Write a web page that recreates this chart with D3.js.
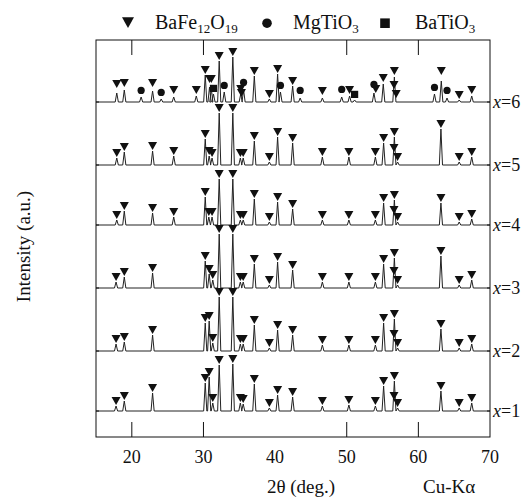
<!DOCTYPE html>
<html>
<head>
<meta charset="utf-8">
<script src="https://cdn.jsdelivr.net/npm/d3@7/dist/d3.min.js"></script>
<style>
  body { margin: 0; background: #fff; }
  svg { display: block; font-family: "Liberation Serif", "Times New Roman", serif; }
</style>
</head>
<body>
<div id="chart"></div>
<script>
// XRD patterns of BaFe12O19 / MgTiO3 composites, x = 1..6, stacked.

const SAMPLES = ['1', '2', '3', '4', '5', '6'];
const OFFSETS = [26, 86, 149, 212, 272, 335];   // stacking offset of each pattern (a.u.)
const X_LABELS = [20, 30, 40, 50, 60, 70];
const X_TICKS = [20, 30, 50, 60];                 // no tick mark at 40 in the original

// peaks: [2θ, height, phase, marker level]; height 0 = marker only (peak hidden under a neighbour)
// phase: B = BaFe12O19, M = MgTiO3, T = BaTiO3
const PEAKS_1 = [
  [17.8, 5, 'B'], [18.95, 10, 'B'], [22.9, 18, 'B'], [30.25, 28, 'B'], [30.8, 34, 'B'],
  [31.3, 8, 'B'], [32.2, 46, 'B'], [34.1, 47, 'B'], [35.15, 8, 'B'], [35.55, 7, 'B'],
  [37.1, 27, 'B'], [39.2, 3, 'B'], [40.35, 16, 'B'], [42.45, 14, 'B'], [46.6, 5, 'B'],
  [50.3, 6, 'B'], [54.0, 5, 'B'], [55.15, 25, 'B'], [56.65, 30, 'B'], [56.6, 0, 'B', 10],
  [57.1, 3, 'B'], [63.15, 20, 'B'], [65.7, 3, 'B'], [67.45, 8, 'B'],
];
const PEAKS_2 = [
  [17.8, 7, 'B'], [18.95, 9, 'B'], [22.9, 16, 'B'], [30.25, 28, 'B'], [30.8, 30, 'B'],
  [31.3, 8, 'B'], [32.2, 54, 'B'], [34.1, 54, 'B'], [35.15, 7, 'B'], [35.55, 7, 'B'],
  [37.1, 26, 'B'], [39.2, 3, 'B'], [40.35, 21, 'B'], [42.45, 16, 'B'], [46.6, 6, 'B'],
  [50.3, 6, 'B'], [54.0, 6, 'B'], [55.15, 28, 'B'], [56.65, 32, 'B'], [56.6, 0, 'B', 12],
  [57.1, 3, 'B'], [63.15, 22, 'B'], [65.7, 3, 'B'], [67.45, 7, 'B'],
];
const PEAKS_3 = [
  [17.8, 6, 'B'], [18.95, 11, 'B'], [22.9, 15, 'B'], [30.25, 27, 'B'], [30.8, 14, 'B'],
  [31.3, 8, 'B'], [32.2, 54, 'B'], [34.1, 54, 'B'], [35.15, 6, 'B'], [35.55, 6, 'B'],
  [37.1, 24, 'B'], [39.2, 3, 'B'], [40.35, 26, 'B'], [42.45, 18, 'B'], [46.6, 6, 'B'],
  [50.3, 6, 'B'], [54.0, 6, 'B'], [55.15, 24, 'B'], [56.65, 30, 'B'], [56.6, 0, 'B', 12],
  [57.1, 3, 'B'], [63.15, 32, 'B'], [65.7, 3, 'B'], [67.45, 8, 'B'],
];
const PEAKS_4 = [
  [17.9, 5, 'B'], [18.95, 14, 'B'], [22.9, 12, 'B'], [25.85, 8, 'B'], [30.25, 28, 'B'],
  [30.75, 8, 'B'], [31.2, 8, 'B'], [32.2, 46, 'B'], [34.1, 46, 'B'], [35.15, 5, 'B'],
  [35.55, 5, 'B'], [37.1, 26, 'B'], [39.2, 3, 'B'], [40.35, 23, 'B'], [42.45, 16, 'B'],
  [46.6, 5, 'B'], [50.3, 5, 'B'], [54.0, 5, 'B'], [55.15, 22, 'B'], [56.65, 25, 'B'],
  [56.6, 0, 'B', 10], [57.1, 3, 'B'], [63.15, 22, 'B'], [65.7, 3, 'B'], [67.45, 6, 'B'],
];
const PEAKS_5 = [
  [17.9, 7, 'B'], [18.95, 13, 'B'], [22.9, 14, 'B'], [25.85, 9, 'B'], [30.25, 26, 'B'],
  [30.8, 9, 'B'], [31.2, 7, 'B'], [32.2, 52, 'B'], [34.1, 52, 'B'], [35.15, 7, 'B'],
  [35.55, 7, 'B'], [37.1, 24, 'B'], [39.2, 3, 'B'], [40.35, 28, 'B'], [42.45, 22, 'B'],
  [46.6, 8, 'B'], [50.3, 8, 'B'], [54.0, 8, 'B'], [55.15, 22, 'B'], [56.65, 28, 'B'],
  [56.6, 0, 'B', 12], [57.1, 3, 'B'], [63.15, 36, 'B'], [65.7, 3, 'B'], [67.45, 8, 'B'],
];
const PEAKS_6 = [
  [17.9, 9, 'B', 13], [18.95, 12, 'B', 14], [21.3, 5, 'M', 7], [22.9, 11, 'B', 14],
  [24.1, 3, 'M', 5], [25.85, 5, 'B', 7], [29.0, 6, 'B', 7], [30.25, 27, 'B'],
  [30.85, 15, 'B', 18], [31.1, 13, 'B', 18], [31.4, 8, 'T', 9], [32.2, 41, 'B'],
  [32.9, 10, 'M', 12], [34.1, 45, 'B'], [35.2, 8, 'B'], [35.6, 12, 'M', 15],
  [35.3, 0, 'B', 4], [37.1, 26, 'B'], [39.2, 3, 'B'], [40.35, 28, 'B'],
  [40.75, 10, 'M', 12], [42.45, 16, 'B'], [43.5, 4, 'M', 7], [46.6, 4, 'B', 6],
  [49.3, 5, 'M', 8], [50.4, 6, 'B', 7], [51.1, 2, 'T', 3], [53.8, 9, 'M', 13],
  [54.05, 0, 'B', 8], [55.1, 18, 'B', 19], [56.65, 25, 'B', 26], [56.6, 0, 'B', 12],
  [56.9, 0, 'B', 3], [62.25, 8, 'M', 10], [63.2, 21, 'B', 26], [64.0, 4, 'M', 7],
  [65.7, 2, 'B', 2], [67.45, 6, 'B', 7],
];
const PATTERNS = [PEAKS_1, PEAKS_2, PEAKS_3, PEAKS_4, PEAKS_5, PEAKS_6];

const PHASES = [
  { key: 'B', parts: [['BaFe', 0], ['12', 1], ['O', 0], ['19', 1]] },
  { key: 'M', parts: [['MgTiO', 0], ['3', 1]] },
  { key: 'T', parts: [['BaTiO', 0], ['3', 1]] },
];

const W = 525, H = 497;
const M = { left: 96, right: 35, top: 40, bottom: 60 };
const INK = '#111';

const svg = d3.select('#chart').append('svg')
  .attr('width', W).attr('height', H)
  .attr('viewBox', `0 0 ${W} ${H}`);

const x = d3.scaleLinear().domain([15, 70]).range([M.left, W - M.right]);
const y = d3.scaleLinear().domain([0, 397]).range([H - M.bottom, M.top]);

// spectra: each peak as a narrow spike on a flat background
const HW = 0.22;
const line = d3.line().x((d) => x(d[0])).y((d) => y(d[1]));
PATTERNS.forEach((peaks, i) => {
  const off = OFFSETS[i];
  const pts = [[15, off]];
  peaks.filter((p) => p[1] > 0).sort((a, b) => a[0] - b[0]).forEach((p) => {
    pts.push([p[0] - HW, off], [p[0], off + p[1]], [p[0] + HW, off]);
  });
  pts.push([70, off]);
  svg.append('path')
    .attr('d', line(pts))
    .attr('fill', 'none')
    .attr('stroke', '#222')
    .attr('stroke-width', 1)
    .attr('stroke-linejoin', 'round');
});

// phase markers
function marker(g, phase, cx, yb, s) {
  if (phase === 'B') {
    g.append('path')
      .attr('d', `M${cx - s / 2},${yb - s * 0.9}L${cx + s / 2},${yb - s * 0.9}L${cx},${yb}Z`)
      .attr('fill', INK);
  } else if (phase === 'M') {
    g.append('circle').attr('cx', cx).attr('cy', yb - s * 0.4).attr('r', s * 0.4).attr('fill', INK);
  } else {
    g.append('rect').attr('x', cx - s * 0.4).attr('y', yb - s * 0.8)
      .attr('width', s * 0.8).attr('height', s * 0.8).attr('fill', INK);
  }
}
const gm = svg.append('g');
PATTERNS.forEach((peaks, i) => {
  peaks.forEach((p) => {
    const level = p[3] !== undefined ? p[3] : p[1];
    marker(gm, p[2], x(p[0]), y(OFFSETS[i] + level) - 1, 9);
  });
});

// frame and ticks
svg.append('rect')
  .attr('x', M.left).attr('y', M.top)
  .attr('width', W - M.left - M.right).attr('height', H - M.top - M.bottom)
  .attr('fill', 'none').attr('stroke', INK).attr('stroke-width', 1);

const TL = 15;
svg.append('g').selectAll('line').data(X_TICKS).join('line')
  .attr('x1', (d) => x(d)).attr('x2', (d) => x(d))
  .attr('y1', H - M.bottom).attr('y2', H - M.bottom - TL)
  .attr('stroke', INK);
svg.append('g').selectAll('line').data(X_TICKS).join('line')
  .attr('x1', (d) => x(d)).attr('x2', (d) => x(d))
  .attr('y1', M.top).attr('y2', M.top + TL)
  .attr('stroke', INK);
// short marks at each pattern's zero level on both sides
svg.append('g').selectAll('line').data(OFFSETS).join('line')
  .attr('x1', M.left).attr('x2', M.left + 3)
  .attr('y1', (d) => y(d)).attr('y2', (d) => y(d))
  .attr('stroke', INK);
svg.append('g').selectAll('line').data(OFFSETS).join('line')
  .attr('x1', W - M.right).attr('x2', W - M.right - 3)
  .attr('y1', (d) => y(d)).attr('y2', (d) => y(d))
  .attr('stroke', INK);

svg.append('g').selectAll('text').data(X_LABELS).join('text')
  .attr('x', (d) => x(d)).attr('y', H - M.bottom + 26)
  .attr('text-anchor', 'middle')
  .attr('font-size', 18).attr('fill', INK)
  .text((d) => d);

// sample labels at the right
const lab = svg.append('g').selectAll('text').data(SAMPLES).join('text')
  .attr('x', W - M.right + 3)
  .attr('y', (d, i) => y(OFFSETS[i]) + 6)
  .attr('font-size', 18).attr('fill', INK);
lab.append('tspan').attr('font-style', 'italic').text('x');
lab.append('tspan').text((d) => '=' + d);

// axis titles
svg.append('text')
  .attr('transform', `translate(30,${(M.top + H - M.bottom) / 2 + 8}) rotate(-90)`)
  .attr('text-anchor', 'middle').attr('font-size', 19).attr('fill', INK)
  .text('Intensity (a.u.)');
svg.append('text')
  .attr('x', 301).attr('y', H - 4)
  .attr('text-anchor', 'middle').attr('font-size', 19).attr('fill', INK)
  .text('2θ (deg.)');
svg.append('text')
  .attr('x', 423).attr('y', H - 4)
  .attr('font-size', 19).attr('fill', INK)
  .text('Cu-Kα');

// legend
const LEG_SYM = [128, 267, 385];
const LEG_TXT = [155, 293, 415];
PHASES.forEach((ph, i) => {
  marker(svg, ph.key, LEG_SYM[i], 28, 12);
  const t = svg.append('text')
    .attr('x', LEG_TXT[i]).attr('y', 29)
    .attr('font-size', 20).attr('fill', INK);
  ph.parts.forEach(([s, sub]) => {
    t.append('tspan')
      .attr('font-size', sub ? 13 : 20)
      .attr('dy', 0)
      .attr('baseline-shift', sub ? '-4' : null)
      .text(s);
  });
});
</script>
</body>
</html>
